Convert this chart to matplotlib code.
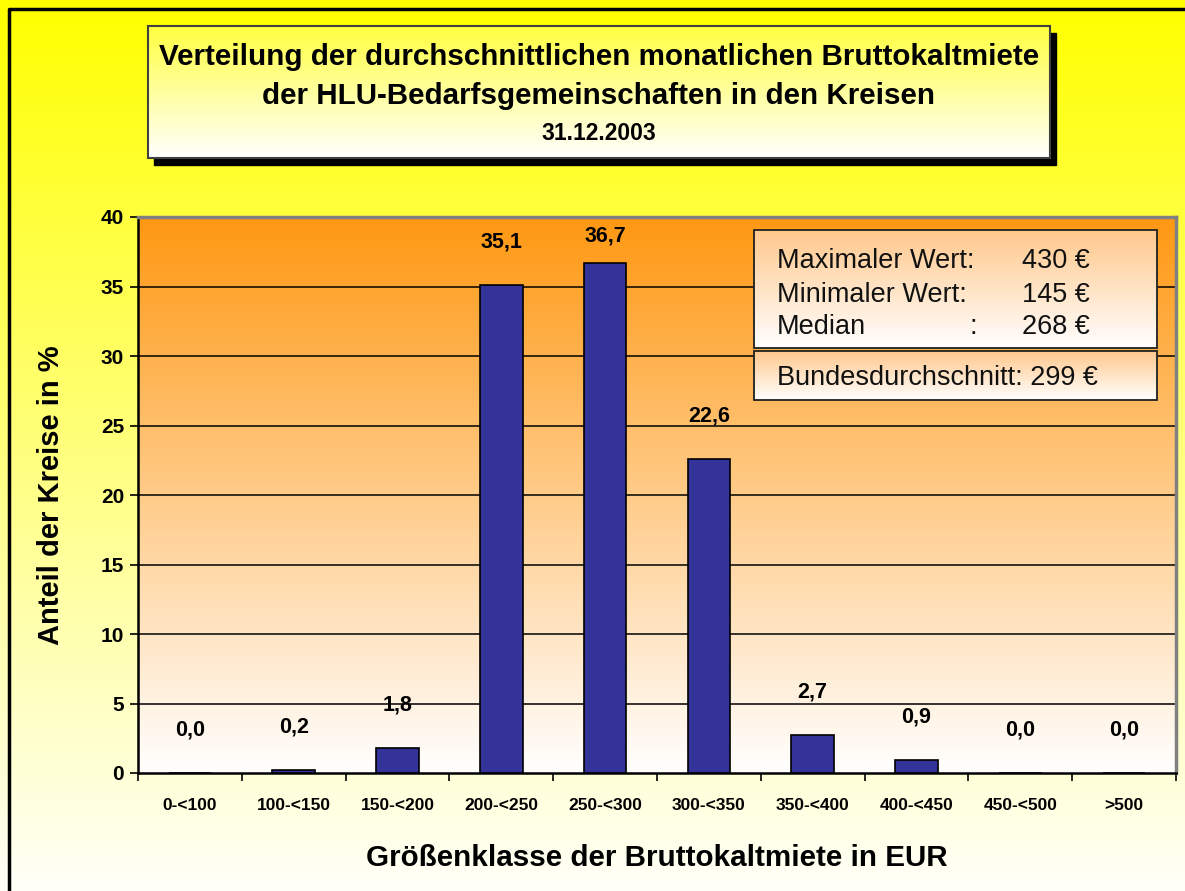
import numpy as np
import matplotlib
matplotlib.use("Agg")
import matplotlib.pyplot as plt
from matplotlib.colors import LinearSegmentedColormap
from matplotlib.patches import Rectangle

plt.rcParams["font.family"] = ["Liberation Sans", "DejaVu Sans"]

categories = ["0-<100", "100-<150", "150-<200", "200-<250", "250-<300",
              "300-<350", "350-<400", "400-<450", "450-<500", ">500"]
shares = [0.0, 0.2, 1.8, 35.1, 36.7, 22.6, 2.7, 0.9, 0.0, 0.0]
labels = ["0,0", "0,2", "1,8", "35,1", "36,7", "22,6", "2,7", "0,9", "0,0", "0,0"]

title_lines = ["Verteilung der durchschnittlichen monatlichen Bruttokaltmiete",
               "der HLU-Bedarfsgemeinschaften in den Kreisen",
               "31.12.2003"]
info_names = ["Maximaler Wert:", "Minimaler Wert:", "Median"]
info_values = ["430 €", "145 €", "268 €"]
info_avg = "Bundesdurchschnitt: 299 €"

W, H = 1185, 891
fig = plt.figure(figsize=(W / 100, H / 100), dpi=100)


def vgrad(ax, x0, y0, x1, y1, top, bottom, z, transform=None):
    cmap = LinearSegmentedColormap.from_list("g", [top, bottom])
    grad = np.linspace(0, 1, 256).reshape(-1, 1)
    kw = {}
    if transform is not None:
        kw["transform"] = transform
    ax.imshow(grad, cmap=cmap, aspect="auto", extent=(x0, x1, y1, y0),
              origin="upper", zorder=z, interpolation="bilinear", **kw)


# page background
bg = fig.add_axes([0, 0, 1, 1], zorder=0)
bg.set_xlim(0, W); bg.set_ylim(H, 0); bg.axis("off")
vgrad(bg, 0, 0, W, H, "#ffff00", "#fffff8", 0)
bg.set_xlim(0, W); bg.set_ylim(H, 0)
bg.plot([9, 9, W], [H, 9, 9], color="black", lw=2.5, zorder=2)

# plot area
L, R, T, B = 138, 1176, 217, 773
ax = fig.add_axes([L / W, 1 - B / H, (R - L) / W, (B - T) / H], zorder=1)
ax.patch.set_alpha(0)
vgrad(ax, 0, 1, 1, 0, "#ff9812", "#ffffff", 0, transform=ax.transAxes)
ax.set_ylim(0, 40)
ax.set_xlim(-0.5, len(categories) - 0.5)
x = np.arange(len(categories))
ax.bar(x, shares, width=0.41, color="#333399", edgecolor="black", lw=1.2, zorder=3)
for yy in range(5, 40, 5):
    ax.axhline(yy, color="black", lw=1.1, zorder=2)
for xi, v, lab in zip(x, shares, labels):
    ax.text(xi, min(v + 3.1, 38.6), lab, ha="center", va="center",
            fontsize=15.5, fontweight="bold", zorder=4)

ax.set_yticks(range(0, 41, 5))
ax.set_yticklabels([str(v) for v in range(0, 41, 5)], fontsize=15, fontweight="bold")
ax.set_xticks(np.arange(-0.5, len(categories), 1))
ax.set_xticklabels([])
ax.set_xticks(x, minor=True)
ax.set_xticklabels(categories, minor=True, fontsize=12.5, fontweight="bold")
ax.tick_params(axis="x", which="minor", length=0, pad=18)
ax.tick_params(axis="x", which="major", length=6, width=1.2, direction="out")
ax.tick_params(axis="y", length=6, width=1.2, direction="out", pad=4)
for s in ("left", "bottom"):
    ax.spines[s].set_color("black"); ax.spines[s].set_linewidth(1.8)
for s in ("top", "right"):
    ax.spines[s].set_color("#808080"); ax.spines[s].set_linewidth(2.5)
ax.set_xlabel("Größenklasse der Bruttokaltmiete in EUR", fontsize=21.3,
              fontweight="bold", labelpad=22)
ax.set_ylabel("Anteil der Kreise in %", fontsize=21, fontweight="bold", labelpad=26)

# overlay for boxes
ov = fig.add_axes([0, 0, 1, 1], zorder=2)
ov.patch.set_alpha(0); ov.axis("off")

# title box
tx0, ty0, tx1, ty1 = 148, 26, 1050, 158
ov.add_patch(Rectangle((tx0 + 6, ty0 + 7), tx1 - tx0, ty1 - ty0, color="black", zorder=1))
vgrad(ov, tx0, ty0, tx1, ty1, "#ffff40", "#ffffff", 2)
ov.add_patch(Rectangle((tx0, ty0), tx1 - tx0, ty1 - ty0, fill=False,
                       edgecolor="#404040", lw=1.5, zorder=3))
for yy, line, fs in zip([57, 96, 134], title_lines, [21.3, 21.3, 16.5]):
    ov.text((tx0 + tx1) / 2, yy, line, ha="center", va="center", fontsize=fs,
            fontweight="bold", zorder=4)

# info boxes
ix0, ix1 = 754, 1157
vgrad(ov, ix0, 230, ix1, 348, "#ffc88c", "#ffffff", 2)
ov.add_patch(Rectangle((ix0, 230), ix1 - ix0, 118, fill=False, edgecolor="#202020",
                       lw=1.3, zorder=3))
vgrad(ov, ix0, 351, ix1, 400, "#ffc88c", "#ffffff", 2)
ov.add_patch(Rectangle((ix0, 351), ix1 - ix0, 49, fill=False, edgecolor="#202020",
                       lw=1.3, zorder=3))
for yy, nm, val in zip([261, 295, 327], info_names, info_values):
    ov.text(777, yy, nm, ha="left", va="center", fontsize=19.5, zorder=4, color="#111111")
    ov.text(1022, yy, val, ha="left", va="center", fontsize=19.5, zorder=4, color="#111111")
ov.text(970, 327, ":", ha="left", va="center", fontsize=19.5, zorder=4, color="#111111")
ov.text(777, 378, info_avg, ha="left", va="center", fontsize=19.5, zorder=4, color="#111111")
ov.set_xlim(0, W); ov.set_ylim(H, 0)

fig.savefig("out.png", dpi=100)
